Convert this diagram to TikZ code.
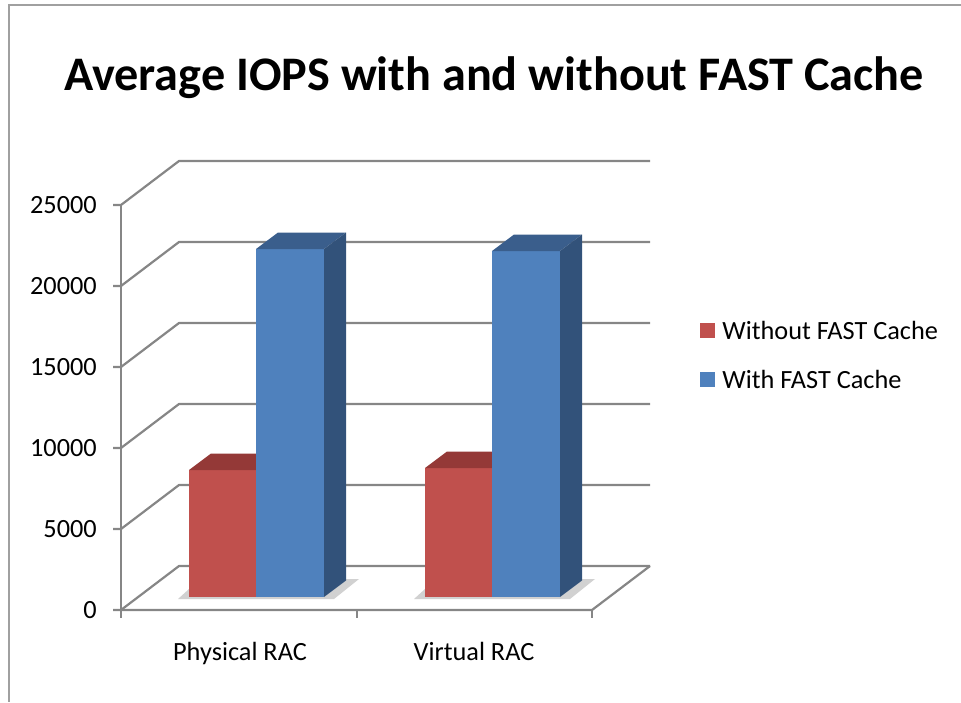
\documentclass[tikz,border=0pt]{standalone}
\usepackage{fontspec}
\setmainfont{Carlito}
\usetikzlibrary{positioning}
\definecolor{frame}{RGB}{160,160,160}
\definecolor{grid}{RGB}{134,134,134}
\definecolor{redface}{RGB}{192,80,77}
\definecolor{redtop}{RGB}{148,57,55}
\definecolor{redside}{RGB}{150,60,58}
\definecolor{blueface}{RGB}{79,129,189}
\definecolor{bluetop}{RGB}{58,94,140}
\definecolor{blueside}{RGB}{50,82,122}
\tikzset{
  gridline/.style={draw=grid, line width=2.2pt},
  frameline/.style={draw=frame, line width=2pt},
  lbl/.style={font=\fontsize{26.3}{31}\selectfont, inner sep=0pt, text=black},
  ttl/.style={font=\fontsize{48.2}{57}\selectfont\bfseries, inner sep=0pt},
  key/.style={minimum size=15pt, inner sep=0pt},
  shade/.style={fill=black, opacity=0.18},
}

\begin{document}
\begin{tikzpicture}[x=1pt, y=-1pt]
  \useasboundingbox (0,0) rectangle (961,702);
  % chart area border, only top and left edges show
  \draw[frameline] (961,4.5) -- (8.5,4.5) -- (8.5,702);
  \node[ttl, anchor=base] (title) at (494,90) {Average IOPS with and without FAST Cache};
  % back wall, left wall and value labels
  \foreach \i/\v in {0/0,1/5000,2/10000,3/15000,4/20000,5/25000}{
    \draw[gridline] (113,{610-81*\i}) -- (121,{610-81*\i}) -- (179,{566-81*\i}) -- (650,{566-81*\i});
    \node[lbl, anchor=east] (val\i) at (97,{610-81*\i}) {\v};
  }
  % floor and axes
  \draw[gridline] (121,610) -- (592,610) -- (650,566);
  \draw[gridline] (121,206) -- (121,618);
  \foreach \x in {357,592} \draw[gridline] (\x,610) -- (\x,618);
  % soft shadow under each pair
  \foreach \dx in {0,236}{
    \fill[shade] (178+\dx,599) -- (334+\dx,599) -- (359+\dx,579) -- (200+\dx,579) -- cycle;
  }
  % bars
  \foreach \xl/\yt/\cf/\ct/\cs in {189/470/redface/redtop/redside, 256/249/blueface/bluetop/blueside,
                                  425/468/redface/redtop/redside, 492/251/blueface/bluetop/blueside}{
    \fill[\cf] (\xl,597) rectangle ++(68,{\yt-597});
    \fill[\ct] (\xl,\yt) -- ++(68,0) -- ++(22,-16.5) -- ++(-68,0) -- cycle;
    \fill[\cs] (\xl+68,597) -- (\xl+68,\yt) -- ++(22,-16.5) -- (\xl+90,580.5) -- cycle;
  }
  \node[lbl, anchor=base] (phys) at (240,660) {Physical RAC};
  \node[lbl, anchor=base] (virt) at (474,660) {Virtual RAC};
  % legend
  \node[key, fill=redface] (keyA) at (707.5,330.5) {};
  \node[lbl, right=7pt of keyA] (txtA) {Without FAST Cache};
  \node[key, fill=blueface] (keyB) at (707.5,379) {};
  \node[lbl, right=7pt of keyB] (txtB) {With FAST Cache};
\end{tikzpicture}
\end{document}
